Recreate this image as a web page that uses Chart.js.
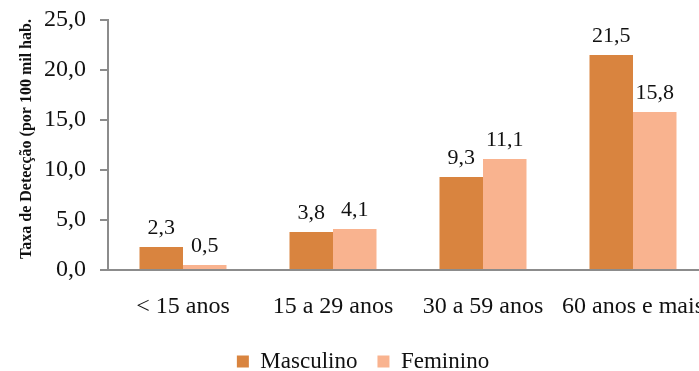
<!DOCTYPE html>
<html>
<head>
<meta charset="utf-8">
<script src="https://cdn.jsdelivr.net/npm/chart.js@4"></script>
<style>
  html, body { margin: 0; padding: 0; background: #fff; overflow: hidden; }
  #wrap { width: 699px; height: 371px; overflow: hidden; }
</style>
</head>
<body>
<div id="wrap"><canvas id="c" width="708" height="371"></canvas></div>
<script>
const categories = ['< 15 anos', '15 a 29 anos', '30 a 59 anos', '60 anos e mais'];
const masculino = [2.3, 3.8, 9.3, 21.5];
const feminino = [0.5, 4.1, 11.1, 15.8];
const yTicks = [0, 5, 10, 15, 20, 25];
const seriesNames = ['Masculino', 'Feminino'];

const SERIF = '"Liberation Serif", "Times New Roman", serif';
const fmt = v => v.toFixed(1).replace('.', ',');

// Value labels drawn above each bar
const valueLabels = {
  id: 'valueLabels',
  afterDatasetsDraw(chart) {
    const ctx = chart.ctx;
    ctx.save();
    ctx.font = '22px ' + SERIF;
    ctx.fillStyle = '#111';
    ctx.textAlign = 'center';
    ctx.textBaseline = 'alphabetic';
    chart.data.datasets.forEach((ds, i) => {
      chart.getDatasetMeta(i).data.forEach((bar, j) => {
        ctx.fillText(fmt(ds.data[j]), bar.x, bar.y - 13);
      });
    });
    ctx.restore();
  }
};

// nudge the legend a little to the right of the canvas centre
const legendShift = {
  id: 'legendShift',
  afterLayout(chart) {
    if (chart.legend) { chart.legend.left += 9; chart.legend.right += 9; }
  }
};

new Chart(document.getElementById('c'), {
  type: 'bar',
  data: {
    labels: categories,
    datasets: [
      { label: seriesNames[0], data: masculino, backgroundColor: '#D9843F',
        categoryPercentage: 0.58, barPercentage: 1.0 },
      { label: seriesNames[1], data: feminino, backgroundColor: '#F9B38F',
        categoryPercentage: 0.58, barPercentage: 1.0 }
    ]
  },
  options: {
    responsive: false,
    animation: false,
    layout: { padding: { top: 20, left: 0, right: 0, bottom: -12 } },
    plugins: {
      tooltip: { enabled: false },
      legend: {
        position: 'bottom',
        labels: {
          font: { family: SERIF, size: 23 },
          color: '#111',
          boxWidth: 12,
          boxHeight: 12,
          padding: 20
        }
      }
    },
    scales: {
      x: {
        grid: { display: false },
        border: { color: '#8c8c8c', width: 2 },
        ticks: { font: { family: SERIF, size: 24 }, color: '#111', padding: 14,
                 maxRotation: 0, autoSkip: false },
        afterFit(s) { s.height = 60; s.paddingLeft = 0; s.paddingRight = 0; }
      },
      y: {
        min: 0, max: 25,
        afterBuildTicks(s) { s.ticks = yTicks.map(v => ({ value: v })); },
        grid: { drawOnChartArea: false, tickLength: 8, color: '#8c8c8c', lineWidth: 2 },
        border: { color: '#8c8c8c', width: 2 },
        ticks: { font: { family: SERIF, size: 24 }, color: '#111', padding: 14,
                 callback: v => fmt(v) },
        title: {
          display: true,
          text: '   Taxa de Detecção (por 100 mil hab.',
          font: { family: SERIF, size: 16, weight: 'bold' },
          color: '#111',
          padding: { top: 17, bottom: 0 }
        },
        afterFit(s) { s.width = 108; s.paddingTop = 0; s.paddingBottom = 0; }
      }
    }
  },
  plugins: [valueLabels, legendShift]
});
</script>
</body>
</html>
